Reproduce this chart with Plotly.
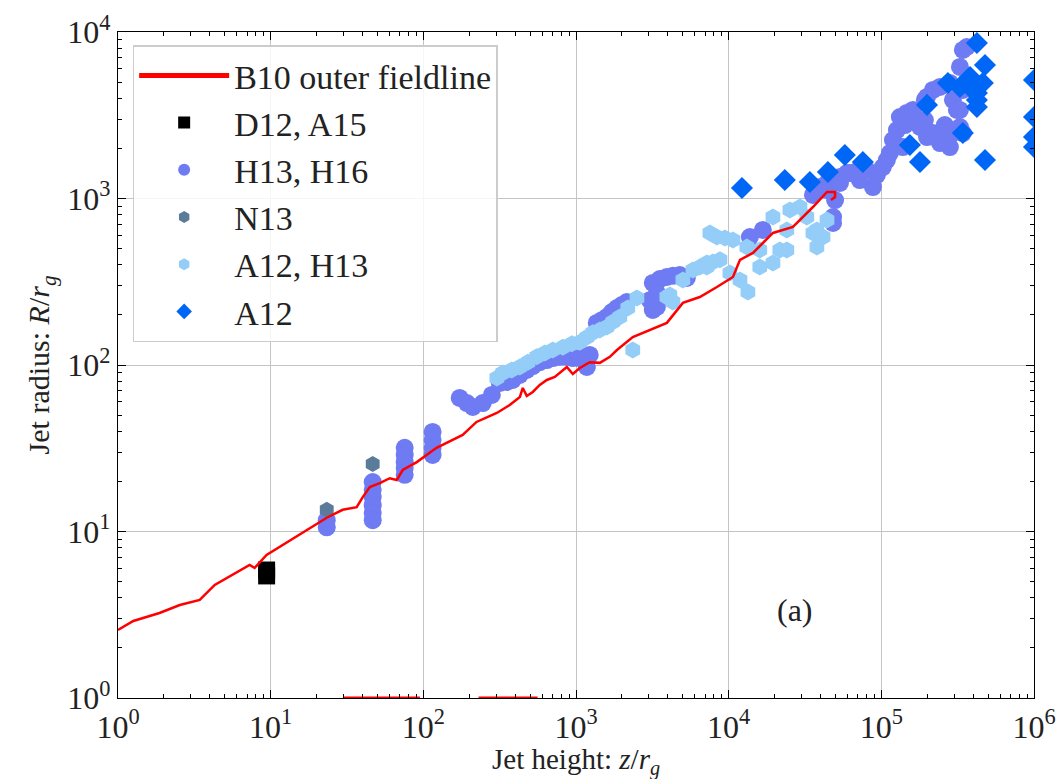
import plotly.graph_objects as go

# ---------------- data ----------------
# B10 outer fieldline
b10_z = [1.0, 1.26, 1.87, 2.54, 3.43, 4.30, 7.28, 7.85, 9.40, 12.0, 16.2, 23.3, 29.6,
         36.6, 40.1, 44.6, 51.8, 60.3, 67.0, 73.3, 90.6, 122, 181, 223, 303, 368, 429,
         448, 476, 521, 579, 644, 726, 871, 953, 1059, 1230, 1432, 1667, 1854, 2355,
         3048, 3936, 5012, 6471, 8375, 10670, 11860, 14420, 19500, 26360, 35650, 41500,
         44060, 49770, 49770, 46770]
b10_R = [2.56, 2.90, 3.24, 3.62, 3.88, 4.78, 6.30, 6.04, 7.23, 8.30, 9.93, 12.1, 13.5,
         14.0, 16.1, 18.5, 19.5, 20.9, 20.4, 23.4, 26.1, 31.8, 38.0, 45.5, 51.5, 57.5, 64.3,
         72.8, 65.2, 68.9, 75.9, 81.3, 84.7, 97.3, 88.3, 95.9, 104, 103, 112, 123, 147,
         162, 179, 236, 256, 294, 338, 428, 471, 621, 675, 889, 1021,
         1094, 1094, 1021, 979]

# D12, A15
d12_z = [9.41, 9.41]
d12_R = [5.87, 5.41]

# H13, H16
h13_z = [23.3, 23.3,
         46.6, 46.6, 46.6, 46.6, 46.6, 46.6,
         75.5, 75.5, 75.5, 75.5, 75.5,
         115, 115, 115, 115,
         173, 193, 211, 245, 281, 317, 352, 385, 428, 476, 521, 579, 644, 705, 783, 871,
         953, 1059, 1178, 1230, 1178,
         1368, 1476, 1592, 1718, 1854, 1995, 2153,
         3184, 3540, 3936, 4315, 4786, 5321, 3184, 3048, 3388, 3388,
         13770, 16750,
         35650, 39630, 44060, 48300, 53580, 59570, 69180, 80540, 88100, 93540, 102300, 113800,
         119100, 126500, 132300, 146900, 161100, 179100, 199100, 217800, 242100, 281200, 294400,
         327300, 342000, 217800, 242100, 281200, 294400, 312600, 327300, 342000, 363100,
         48300, 49770, 138400, 161100, 199100,
         44060, 48300, 53580, 62230, 72280, 108700, 122700, 142600, 192800, 260600, 260600,
         327300, 342000, 192800]
h13_R = [11.7, 10.6,
         19.8, 17.8, 16.1, 14.4, 12.9, 11.7,
         31.8, 28.8, 26.1, 24.1, 21.9,
         39.6, 35.5, 31.8, 28.8,
         63.4, 59.1, 56.0, 59.1, 66.1, 78.0, 79.1, 81.3, 87.1, 93.3, 98.6, 104, 107, 110, 112, 112,
         110, 110, 113, 115, 97.3,
         179, 186, 194, 208, 220, 229, 239,
         311, 328, 338, 343, 347, 333, 214, 245, 271, 223,
         587, 647,
         1050, 1172, 1239, 1291, 1346, 1422, 1462, 1483, 1172, 1384, 1545, 1875,
         2244, 2576, 3084, 3263, 3263, 2688, 2339, 2472, 2153, 2037, 2472,
         2688, 2472, 4487, 4677, 4943, 3908, 3404, 6166, 7798, 8128,
         774, 979, 2037, 3404, 4074,
         1125, 713, 1239, 1422, 1291, 1702, 2094, 2761, 2958, 2761, 2244,
         3404, 4487, 3908]

# N13
n13_z = [23.3, 46.6]
n13_R = [13.5, 25.4]

# A12, H13
a12h13_z = [303, 331, 379, 428, 484, 553, 625, 705, 820, 940, 1059, 1178, 1288, 1432,
            1592, 1742, 1936, 2183, 2506, 2355,
            3936, 4121, 4315, 5012, 5834, 6471, 7194, 7889, 8770, 10190, 11860, 13370,
            8375, 9441, 10670, 13150, 15990, 15990, 19500, 24040,
            19500, 25180, 32510, 37840, 37840, 41500, 24040, 29310, 44060, 35650, 21630,
            7194, 7534]
a12h13_R = [83.6, 89.5, 93.3, 97.3, 104, 112, 118, 123, 128, 134, 137, 147, 156, 162,
            169, 181, 194, 220, 253, 123,
            256, 263, 239, 324, 372, 388, 410, 416, 428, 357, 324, 274,
            587, 579, 564, 512, 491, 388, 410, 491,
            774, 853, 774, 647, 512, 587, 647, 889, 743, 621, 491,
            388, 621]

# A12
a12_z = [12220, 23330, 34040, 44670, 57680, 75680, 179100, 153800, 199100, 272900,
         342000, 422700, 422700, 462400, 477500, 422700, 477500, 327300, 381100, 398100,
         422700, 1.0e6, 1.0e6, 1.0e6, 1.0e6]
a12_R = [1156, 1291, 1256, 1442, 1824, 1656, 1656, 2094, 3648, 4943,
         2472, 3548, 4305, 4943, 6339, 8590, 1702, 4677, 5370, 4487,
         3908, 5152, 3084, 2339, 2037]

# clipped red marks lying on the lower axis
clip_z = [30, 95, None, 230, 560]
clip_R = [1, 1, None, 1, 1]

x_tickvals = [1, 10, 100, 1000, 10000, 100000, 1000000]
x_ticktext = ["10<sup>0</sup>", "10<sup>1</sup>", "10<sup>2</sup>", "10<sup>3</sup>",
              "10<sup>4</sup>", "10<sup>5</sup>", "10<sup>6</sup>"]
y_tickvals = [1, 10, 100, 1000, 10000]
y_ticktext = ["10<sup>0</sup>", "10<sup>1</sup>", "10<sup>2</sup>", "10<sup>3</sup>",
              "10<sup>4</sup>"]

FONT = "Liberation Serif"

fig = go.Figure()

fig.add_trace(go.Scatter(x=d12_z, y=d12_R, mode="markers", name="D12, A15",
                         marker=dict(symbol="square", size=17, color="black"),
                         legendrank=2))
fig.add_trace(go.Scatter(x=h13_z, y=h13_R, mode="markers", name="H13, H16",
                         marker=dict(symbol="circle", size=18, color="#6e7bf3"),
                         legendrank=3))
fig.add_trace(go.Scatter(x=n13_z, y=n13_R, mode="markers", name="N13",
                         marker=dict(symbol="hexagon", size=16, color="#5a7b99"),
                         legendrank=4))
fig.add_trace(go.Scatter(x=a12h13_z, y=a12h13_R, mode="markers", name="A12, H13",
                         marker=dict(symbol="hexagon", size=17, color="#93cdf8"),
                         legendrank=5))
fig.add_trace(go.Scatter(x=a12_z, y=a12_R, mode="markers", name="A12",
                         marker=dict(symbol="diamond", size=17, color="#0066f5"),
                         legendrank=6))
fig.add_trace(go.Scatter(x=clip_z, y=clip_R, mode="lines", showlegend=False,
                         line=dict(color="red", width=3), hoverinfo="skip"))
fig.add_trace(go.Scatter(x=b10_z, y=b10_R, mode="lines", name="B10 outer fieldline",
                         line=dict(color="#ff0000", width=2.5), legendrank=1))

minor_x = [k * 10 ** d for d in range(6) for k in range(2, 10)]
minor_y = [k * 10 ** d for d in range(4) for k in range(2, 10)]

axis_common = dict(type="log", showline=True, linecolor="black", linewidth=1.2,
                   mirror="allticks", ticks="inside", ticklen=8, tickwidth=1,
                   tickcolor="black", showgrid=True, gridcolor="#c4c4c4", gridwidth=1.2,
                   zeroline=False, automargin=False,
                   tickfont=dict(family=FONT, size=32, color="#222"),
                   title_font=dict(family=FONT, size=30, color="#222"))

fig.update_xaxes(range=[0, 6], tickmode="array", tickvals=x_tickvals, ticktext=x_ticktext,
                 minor=dict(tickmode="array", tickvals=minor_x, ticks="inside", ticklen=4,
                            tickcolor="black", showgrid=False),
                 **axis_common)
fig.update_yaxes(range=[0, 4], tickmode="array", tickvals=y_tickvals, ticktext=y_ticktext,
                 minor=dict(tickmode="array", tickvals=minor_y, ticks="inside", ticklen=4,
                            tickcolor="black", showgrid=False),
                 title=dict(text="Jet radius: <i>R</i>/<i>r<sub>g</sub></i>", standoff=8),
                 **axis_common)

# x-axis title placed as paper annotation to sit clear of the tick labels
fig.add_annotation(x=0.5, y=-0.125, xref="paper", yref="paper", xanchor="center",
                   yanchor="bottom", showarrow=False, borderpad=0,
                   text="Jet height: <i>z</i>/<i>r<sub>g</sub></i>",
                   font=dict(family=FONT, size=29, color="#222"))

fig.add_annotation(x=4.434, y=0.529, xref="x", yref="y", text="(a)", showarrow=False,
                   font=dict(family=FONT, size=32, color="#222"))

fig.update_layout(
    width=1056, height=779,
    margin=dict(l=118, r=22, t=32, b=81),
    paper_bgcolor="white", plot_bgcolor="white",
    font=dict(family=FONT, size=32, color="#222"),
    legend=dict(x=0.016, y=0.98, xanchor="left", yanchor="top",
                bgcolor="rgba(255,255,255,0.85)", bordercolor="#cccccc", borderwidth=1.5,
                font=dict(family=FONT, size=34, color="#222"), itemsizing="constant",
                itemwidth=90, tracegroupgap=0),
    showlegend=True,
)

fig.write_html("out.html")
